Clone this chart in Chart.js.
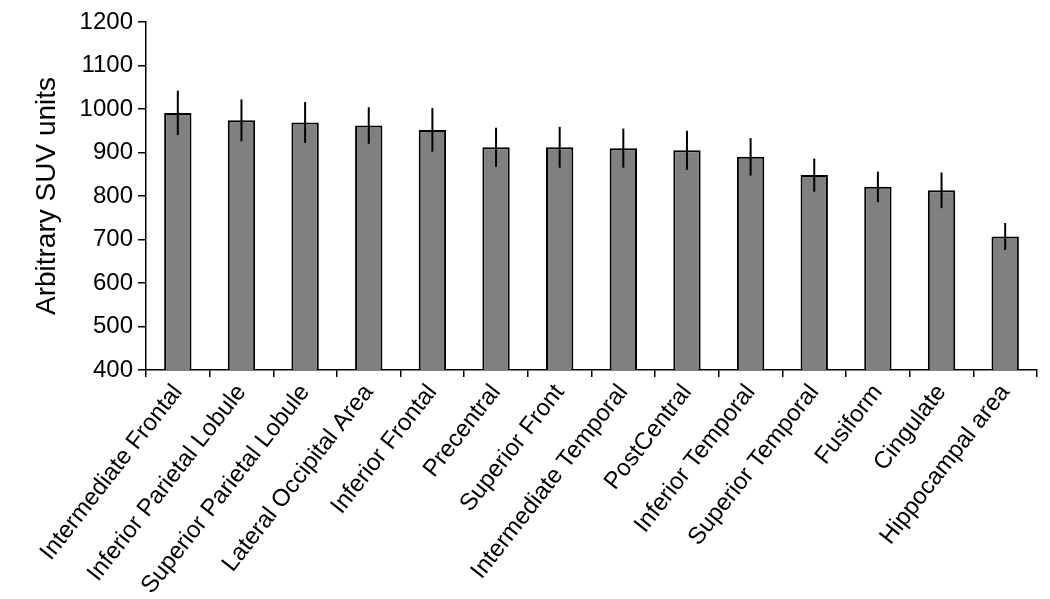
<!DOCTYPE html>
<html>
<head>
<meta charset="utf-8">
<script src="https://cdn.jsdelivr.net/npm/chart.js@4/dist/chart.umd.min.js"></script>
<style>
  html, body { margin: 0; padding: 0; background: #fff; }
  #wrap { width: 1050px; height: 599px; }
</style>
</head>
<body>
<div id="wrap"><canvas id="suv-chart" width="1050" height="599"></canvas></div>
<script>
const regions = [
  "Intermediate Frontal",
  "Inferior Parietal Lobule",
  "Superior Parietal Lobule",
  "Lateral Occipital Area",
  "Inferior Frontal",
  "Precentral",
  "Superior Front",
  "Intermediate Temporal",
  "PostCentral",
  "Inferior Temporal",
  "Superior Temporal",
  "Fusiform",
  "Cingulate",
  "Hippocampal area",
];
const suvMeans = [991, 974, 969, 962, 952, 912, 912, 910, 905, 890, 848, 821, 813, 707];
const suvErrors = [51, 48, 47, 42, 50, 45, 47, 45, 45, 43, 38, 35, 41, 31];
const yTicks = [400, 500, 600, 700, 800, 900, 1000, 1100, 1200];

const errorBars = {
  id: "errorBars",
  afterDatasetsDraw: (chart) => {
    const ctx = chart.ctx;
    const x = chart.scales.x;
    const y = chart.scales.y;
    ctx.save();
    ctx.strokeStyle = "#000";
    ctx.lineWidth = 2;
    suvMeans.forEach((v, i) => {
      const px = x.getPixelForValue(i);
      ctx.beginPath();
      ctx.moveTo(px, y.getPixelForValue(v + suvErrors[i]));
      ctx.lineTo(px, y.getPixelForValue(v - suvErrors[i]));
      ctx.stroke();
    });
    ctx.restore();
  },
};

const ctx = document.getElementById("suv-chart").getContext("2d");
new Chart(ctx, {
  type: "bar",
  data: {
    labels: regions,
    datasets: [
      {
        data: suvMeans,
        backgroundColor: "#808080",
        borderColor: "#000",
        borderWidth: 2,
        barPercentage: 0.43,
        categoryPercentage: 1,
      },
    ],
  },
  options: {
    responsive: false,
    animation: false,
    layout: {
      padding: { top: 22, right: 13, left: 30, bottom: 0 },
    },
    scales: {
      x: {
        afterFit: (scale) => {
          scale.height = 229;
        },
        border: { display: true, color: "#000", width: 1.5 },
        grid: {
          offset: true,
          drawOnChartArea: false,
          drawTicks: true,
          tickLength: 7,
          color: "#000",
          lineWidth: 1.5,
        },
        ticks: {
          color: "#000",
          font: { family: "Liberation Sans, Arial", size: 24 },
          minRotation: 52,
          maxRotation: 52,
          autoSkip: false,
          padding: 2,
        },
      },
      y: {
        min: 400,
        max: 1200,
        afterFit: (scale) => {
          scale.width = 116;
        },
        afterBuildTicks: (scale) => {
          scale.ticks = yTicks.map((v) => ({ value: v }));
        },
        border: { display: true, color: "#000", width: 1.5 },
        grid: {
          drawOnChartArea: false,
          drawTicks: true,
          tickLength: 8,
          color: "#000",
          lineWidth: 1.5,
        },
        ticks: {
          color: "#000",
          font: { family: "Liberation Sans, Arial", size: 24 },
          padding: 5,
          callback: (value) => String(value),
        },
        title: {
          display: true,
          text: "Arbitrary SUV units",
          color: "#000",
          font: { family: "Liberation Sans, Arial", size: 28 },
          padding: { top: 0, bottom: 0 },
        },
      },
    },
    plugins: {
      legend: { display: false },
      tooltip: { enabled: false },
    },
  },
  plugins: [errorBars],
});
</script>
</body>
</html>
